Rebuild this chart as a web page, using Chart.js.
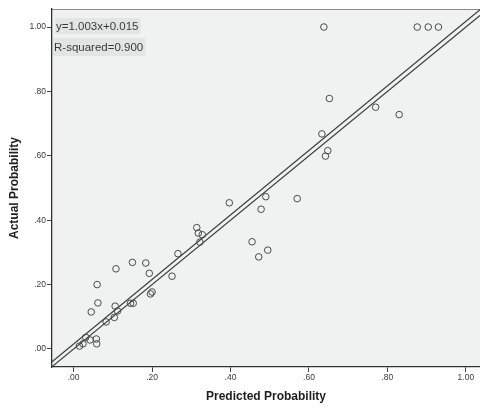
<!DOCTYPE html>
<html>
<head>
<meta charset="utf-8">
<script src="https://cdn.jsdelivr.net/npm/chart.js@4.4.1/dist/chart.umd.min.js"></script>
<style>
html,body{margin:0;padding:0;background:#fff;}
#wrap{width:480px;height:408px;}
</style>
</head>
<body>
<div id="wrap"><canvas id="c" width="480" height="408"></canvas></div>
<script>
const predicted = [0.015,0.024,0.031,0.042,0.058,0.059,0.045,0.060,0.062,0.083,0.104,0.106,0.112,0.108,0.145,0.152,0.150,0.184,0.193,0.196,0.200,0.251,0.266,0.314,0.318,0.328,0.322,0.397,0.455,0.472,0.495,0.478,0.490,0.570,0.652,0.633,0.648,0.642,0.638,0.876,0.904,0.930,0.770,0.830];
const actual    = [0.009,0.016,0.036,0.028,0.031,0.016,0.115,0.200,0.143,0.084,0.098,0.133,0.118,0.249,0.142,0.142,0.269,0.267,0.235,0.171,0.177,0.226,0.296,0.377,0.360,0.355,0.332,0.454,0.333,0.286,0.307,0.434,0.473,0.467,0.778,0.668,0.616,0.599,1.000,1.000,1.000,1.000,0.751,0.728];
const tickValues = [0, 0.2, 0.4, 0.6, 0.8, 1.0];
const tickLabels = [".00", ".20", ".40", ".60", ".80", "1.00"];
const fitSlope = 1.003;
const fitIntercept = 0.015;
const fitLabels = ["y=1.003x+0.015", "R-squared=0.900"];
const xTitle = "Predicted Probability";
const yTitle = "Actual Probability";

const X_MIN = -0.055, X_MAX = 1.036, Y_MIN = -0.056, Y_MAX = 1.056;

const points = predicted.map((p, i) => ({x: p, y: actual[i]}));
const fitLine = [X_MIN, X_MAX].map(x => ({x: x, y: fitSlope * x + fitIntercept}));
const refLine = [X_MIN, X_MAX].map(x => ({x: x, y: x}));

const bgPlugin = {
  id: 'bg',
  beforeDraw(chart) {
    const {ctx, chartArea: a} = chart;
    ctx.save();
    ctx.fillStyle = '#f0f1f1';
    ctx.fillRect(a.left, a.top, a.right - a.left, a.bottom - a.top);
    ctx.strokeStyle = '#8a8a8a';
    ctx.lineWidth = 1;
    ctx.beginPath();
    ctx.moveTo(a.left, a.top + 0.5);
    ctx.lineTo(a.right, a.top + 0.5);
    ctx.stroke();
    ctx.restore();
  },
  afterDraw(chart) {
    const {ctx, chartArea: a} = chart;
    ctx.save();
    ctx.font = '11.5px "Liberation Sans", Arial, sans-serif';
    ctx.textBaseline = 'alphabetic';
    const lines = [{t: fitLabels[0], x: a.left + 4, base: 30, top: 18, h: 16},
                   {t: fitLabels[1], x: a.left + 2, base: 51, top: 38, h: 18}];
    lines.forEach(l => {
      const w = ctx.measureText(l.t).width;
      ctx.fillStyle = '#e3e4e4';
      ctx.fillRect(l.x - 1, l.top, w + 3, l.h);
      ctx.fillStyle = '#3a3a3a';
      ctx.fillText(l.t, l.x, l.base);
    });
    ctx.restore();
  }
};

const tickFont = {family: '"Liberation Sans", Arial, sans-serif', size: 8.5};
const titleFont = {family: '"Liberation Sans", Arial, sans-serif', size: 12, weight: 'bold', lineHeight: 1.2};

new Chart(document.getElementById('c'), {
  data: {
    datasets: [
      {type: 'line', data: refLine, borderColor: '#3a3a3a', borderWidth: 1.2, pointRadius: 0, fill: false, order: 2},
      {type: 'line', data: fitLine, borderColor: '#3a3a3a', borderWidth: 1.2, pointRadius: 0, fill: false, order: 2},
      {type: 'scatter', data: points, pointStyle: 'circle', pointRadius: 3.3, pointBorderWidth: 1,
       borderColor: '#4a4a4a', backgroundColor: 'rgba(0,0,0,0)', pointBackgroundColor: 'rgba(0,0,0,0)', order: 1}
    ]
  },
  options: {
    responsive: false,
    animation: false,
    devicePixelRatio: 1,
    layout: {autoPadding: false, padding: {top: 9, left: 0, right: 0, bottom: 0}},
    plugins: {legend: {display: false}, tooltip: {enabled: false}},
    scales: {
      x: {
        type: 'linear', position: 'bottom', min: X_MIN, max: X_MAX,
        afterBuildTicks: s => { s.ticks = tickValues.map(v => ({value: v})); },
        afterFit: s => { s.height = 41; s.paddingLeft = 0; s.paddingRight = 0; },
        ticks: {font: tickFont, color: '#3a3a3a', padding: 1, maxRotation: 0, autoSkip: false,
                callback: (v, i) => tickLabels[i]},
        grid: {display: true, drawOnChartArea: false, drawTicks: true, tickLength: 5, color: '#444'},
        border: {display: true, color: '#333', width: 1.3},
        title: {display: true, text: xTitle, font: titleFont, color: '#1e1e1e', padding: {top: 0, bottom: 4}}
      },
      y: {
        type: 'linear', position: 'left', min: Y_MIN, max: Y_MAX,
        afterBuildTicks: s => { s.ticks = tickValues.map(v => ({value: v})); },
        afterFit: s => { s.width = 52; },
        ticks: {font: tickFont, color: '#3a3a3a', padding: 1, autoSkip: false,
                callback: (v, i) => tickLabels[i]},
        grid: {display: true, drawOnChartArea: false, drawTicks: true, tickLength: 5, color: '#444'},
        border: {display: true, color: '#333', width: 1.3},
        title: {display: true, text: yTitle, font: titleFont, color: '#1e1e1e', padding: {top: 7, bottom: 0}}
      }
    }
  },
  plugins: [bgPlugin]
});
</script>
</body>
</html>
